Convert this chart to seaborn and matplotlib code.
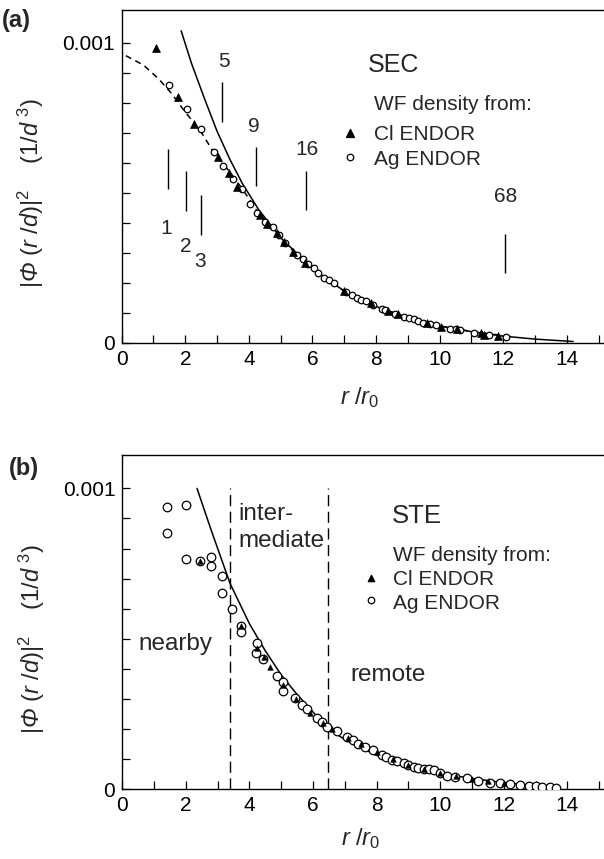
import numpy as np
import pandas as pd
import matplotlib
matplotlib.use("Agg")
import matplotlib.pyplot as plt
import seaborn as sns

# ---------------- data (densities in units of 1e-3 / d^3) ----------------
# Panel (a): SEC
sec_cl_r = [1.07, 1.77, 2.28, 3.04, 3.38, 3.63, 4.35, 4.58, 4.90, 5.10, 5.40, 5.78, 6.99, 7.84,
            8.38, 8.70, 9.60, 10.05, 10.55, 11.30, 11.40, 11.83]
sec_cl_d = [0.981, 0.820, 0.729, 0.620, 0.566, 0.520, 0.425, 0.395, 0.365, 0.335, 0.303, 0.265, 0.173, 0.131,
            0.105, 0.095, 0.066, 0.054, 0.046, 0.031, 0.027, 0.024]

sec_ag_r = [1.49, 2.06, 2.50, 2.89, 3.19, 3.51, 3.77, 4.03, 4.26, 4.51, 4.75, 4.95, 5.14, 5.52, 5.69,
            5.86, 6.05, 6.18, 6.36, 6.52, 6.68, 7.07, 7.24, 7.39, 7.53, 7.68, 7.91, 8.20, 8.27,
            8.59, 8.88, 9.04, 9.19, 9.33, 9.49, 9.70, 9.90, 10.33, 10.52, 10.65, 11.08, 11.55, 12.10]
sec_ag_d = [0.859, 0.778, 0.711, 0.637, 0.589, 0.547, 0.511, 0.462, 0.433, 0.403, 0.387, 0.359, 0.331, 0.292, 0.278,
            0.261, 0.248, 0.233, 0.217, 0.209, 0.198, 0.170, 0.159, 0.148, 0.142, 0.140, 0.125, 0.111, 0.109,
            0.096, 0.087, 0.081, 0.078, 0.073, 0.067, 0.062, 0.058, 0.047, 0.047, 0.044, 0.033, 0.027, 0.020]

sec_fit_r = [1.87, 2.20, 2.60, 3.00, 3.40, 3.80, 4.30, 5.00, 6.00, 7.00, 8.00, 9.00, 10.0, 11.0, 12.0, 13.0, 14.2]
sec_fit_d = [1.040, 0.930, 0.815, 0.705, 0.612, 0.530, 0.445, 0.350, 0.248, 0.172, 0.121, 0.083, 0.056, 0.037, 0.022, 0.012, 0.004]

sec_guide_r = [0.13, 0.68, 1.15, 1.57, 1.99, 2.46, 2.88, 3.35, 3.82, 4.24, 5.0, 6.0, 7.0, 8.0, 9.0, 10.0, 11.0, 12.3]
sec_guide_d = [0.957, 0.926, 0.881, 0.831, 0.770, 0.709, 0.637, 0.576, 0.509, 0.442, 0.345, 0.247, 0.172, 0.121, 0.083, 0.056, 0.037, 0.020]

shell_r = [1.45, 2.03, 2.48, 3.17, 4.23, 5.80, 12.07]
shell_lo = [0.514, 0.440, 0.359, 0.737, 0.522, 0.442, 0.233]
shell_hi = [0.647, 0.573, 0.492, 0.870, 0.653, 0.573, 0.364]
shell_labels = ["1", "2", "3", "5", "9", "16", "68"]
shell_label_r = [1.41, 2.00, 2.47, 3.23, 4.16, 5.83, 12.07]
shell_label_d = [0.364, 0.303, 0.253, 0.920, 0.703, 0.626, 0.470]

# Panel (b): STE
ste_ag_r = [1.41, 1.41, 2.00, 2.00, 2.44, 2.80, 2.80, 3.14, 3.14, 3.45, 3.74, 3.74, 4.23, 4.21, 4.42,
            4.88, 5.07, 5.05, 5.44, 5.65, 5.80, 6.12, 6.27, 6.45, 6.75, 7.06, 7.25, 7.43, 7.65, 7.90,
            8.16, 8.30, 8.48, 8.65, 8.85, 9.00, 9.17, 9.30, 9.48, 9.65, 9.80, 10.0, 10.21, 10.45,
            10.84, 11.20, 11.57, 11.88, 12.20, 12.50, 12.80, 13.00, 13.20, 13.45, 13.65]
ste_ag_d = [0.937, 0.853, 0.945, 0.767, 0.759, 0.771, 0.743, 0.710, 0.653, 0.599, 0.544, 0.524, 0.487, 0.452, 0.432,
            0.376, 0.357, 0.328, 0.302, 0.280, 0.266, 0.236, 0.225, 0.208, 0.194, 0.173, 0.165, 0.150, 0.140, 0.131,
            0.114, 0.108, 0.097, 0.093, 0.088, 0.081, 0.075, 0.072, 0.069, 0.066, 0.063, 0.055, 0.044, 0.042,
            0.037, 0.029, 0.022, 0.020, 0.017, 0.015, 0.012, 0.010, 0.008, 0.007, 0.005]

ste_cl_r = [2.44, 3.74, 4.23, 4.45, 4.65, 5.05, 5.45, 5.90, 6.30, 6.60, 7.10, 7.50, 8.00, 8.50, 9.00,
            9.50, 10.0, 10.5, 11.0, 11.5, 12.0]
ste_cl_d = [0.759, 0.544, 0.470, 0.440, 0.407, 0.345, 0.300, 0.255, 0.220, 0.200, 0.172, 0.150, 0.125, 0.100, 0.082,
            0.066, 0.053, 0.043, 0.034, 0.027, 0.020]

ste_fit_r = [2.35, 2.80, 3.39, 4.00, 4.50, 5.00, 5.50, 6.46, 7.00, 8.00, 9.00, 10.0, 11.0, 12.0, 13.0, 13.7]
ste_fit_d = [1.000, 0.860, 0.684, 0.550, 0.460, 0.380, 0.315, 0.203, 0.165, 0.113, 0.078, 0.053, 0.036, 0.022, 0.012, 0.006]

region_bounds = [3.39, 6.46]

# ---------------- style ----------------
sns.set_theme(style="ticks")
plt.rcParams.update({
    "font.family": ["Liberation Sans", "DejaVu Sans"],
    "mathtext.fontset": "custom",
    "mathtext.rm": "Liberation Sans",
    "mathtext.it": "Liberation Sans:italic",
    "mathtext.sf": "Liberation Sans:italic",   # used for the slanted capital Phi
    "mathtext.bf": "Liberation Sans:bold",
    "mathtext.default": "regular",
    "axes.linewidth": 1.0,
    "axes.edgecolor": "black",
    "xtick.direction": "in",
    "ytick.direction": "in",
    "xtick.color": "black",
    "ytick.color": "black",
})

W, H = 604, 859
fig = plt.figure(figsize=(W / 100, H / 100), dpi=100)
fig.patch.set_facecolor("white")

XMAX = 15.5
px_per_unit = 31.79
ax_a = fig.add_axes([121.7 / W, (H - 342.7) / H, XMAX * px_per_unit / W, (342.7 - 9.5) / H])
ax_b = fig.add_axes([122.3 / W, (H - 789.3) / H, XMAX * px_per_unit / W, (789.3 - 455.0) / H])

S = 1e-3
FS = 15
YLAB = r"$|\mathsf{Φ}\ (\mathit{r}\ /\mathit{d})|^{2}\quad\ (1/\mathit{d}^{\ 3})$"
XLAB = r"$\mathit{r}\ /\mathit{r}_{0}$"


def style_axes(ax, xlab_y):
    ax.set_facecolor("white")
    ax.set_xlim(0, XMAX)
    ax.set_ylim(0, 1.111 * S)
    ax.set_xticks(np.arange(0, 15, 2))
    ax.set_xticks(np.arange(0, 16, 1), minor=True)
    ax.set_yticks([0, S])
    ax.set_yticklabels(["0", "0.001"])
    ax.set_yticks(np.arange(0, 1.05 * S, 0.1 * S), minor=True)
    ax.tick_params(axis="x", which="both", length=5.5, width=0.9, labelsize=FS, pad=5,
                   top=False, direction="in")
    ax.tick_params(axis="y", which="both", length=5.5, width=0.9, labelsize=FS, pad=5,
                   right=False, direction="in")
    ax.tick_params(axis="y", which="minor", labelleft=False)
    for sp in ax.spines.values():
        sp.set_visible(True)
        sp.set_color("black")
        sp.set_linewidth(1.0)
    ax.set_xlabel("")
    ax.set_ylabel("")
    ax.text(-2.85, 0.5 * S, YLAB, rotation=90, ha="center", va="center", fontsize=17,
            clip_on=False)
    ax.text(7.5, xlab_y, XLAB, ha="center", va="center", fontsize=17, clip_on=False)


# ---------------- panel (a) ----------------
sns.lineplot(x=np.array(sec_fit_r), y=np.array(sec_fit_d) * S, ax=ax_a, color="black", lw=1.1,
             sort=False, estimator=None)
sns.lineplot(x=np.array(sec_guide_r), y=np.array(sec_guide_d) * S, ax=ax_a, color="black", lw=1.1,
             sort=False, estimator=None, dashes=False, linestyle=(0, (4, 3)))
for r, lo, hi in zip(shell_r, shell_lo, shell_hi):
    ax_a.vlines(r, lo * S, hi * S, color="black", lw=1.0)
for lab, r, d in zip(shell_labels, shell_label_r, shell_label_d):
    ax_a.text(r, d * S, lab, ha="center", va="baseline", fontsize=FS)

sns.scatterplot(x=sec_ag_r, y=np.array(sec_ag_d) * S, ax=ax_a, marker="o", s=22,
                facecolor="white", edgecolor="black", linewidth=0.9, zorder=3)
sns.scatterplot(x=sec_cl_r, y=np.array(sec_cl_d) * S, ax=ax_a, marker="^", s=32,
                color="black", edgecolor="black", linewidth=0.5, zorder=4)

ax_a.text(8.55, 0.903 * S, "SEC", ha="center", va="baseline", fontsize=18)
ax_a.text(7.94, 0.776 * S, "WF density from:", ha="left", va="baseline", fontsize=FS)
ax_a.text(7.94, 0.676 * S, "Cl ENDOR", ha="left", va="baseline", fontsize=FS)
ax_a.text(7.94, 0.592 * S, "Ag ENDOR", ha="left", va="baseline", fontsize=FS)
ax_a.scatter([7.18], [0.698 * S], marker="^", s=32, color="black", zorder=4)
ax_a.scatter([7.18], [0.620 * S], marker="o", s=22, facecolor="white", edgecolor="black",
             linewidth=0.9, zorder=4)

# ---------------- panel (b) ----------------
sns.lineplot(x=np.array(ste_fit_r), y=np.array(ste_fit_d) * S, ax=ax_b, color="black", lw=1.1,
             sort=False, estimator=None)
for xb in region_bounds:
    ax_b.vlines(xb, 0, 1.0 * S, color="black", lw=1.0, linestyles=(0, (8, 4)))

sns.scatterplot(x=ste_ag_r, y=np.array(ste_ag_d) * S, ax=ax_b, marker="o", s=38,
                facecolor="white", edgecolor="black", linewidth=0.9, zorder=3)
sns.scatterplot(x=ste_cl_r, y=np.array(ste_cl_d) * S, ax=ax_b, marker="^", s=16,
                color="black", edgecolor="black", linewidth=0.4, zorder=4)

ax_b.text(3.65, 0.895 * S, "inter-", ha="left", va="baseline", fontsize=17.5)
ax_b.text(3.65, 0.804 * S, "mediate", ha="left", va="baseline", fontsize=17.5)
ax_b.text(9.27, 0.886 * S, "STE", ha="center", va="baseline", fontsize=18.5)
ax_b.text(8.51, 0.760 * S, "WF density from:", ha="left", va="baseline", fontsize=FS)
ax_b.text(8.51, 0.679 * S, "Cl ENDOR", ha="left", va="baseline", fontsize=FS)
ax_b.text(8.51, 0.598 * S, "Ag ENDOR", ha="left", va="baseline", fontsize=FS)
ax_b.scatter([7.82], [0.701 * S], marker="^", s=20, color="black", zorder=4)
ax_b.scatter([7.82], [0.629 * S], marker="o", s=22, facecolor="white", edgecolor="black",
             linewidth=0.9, zorder=4)
ax_b.text(0.51, 0.463 * S, "nearby", ha="left", va="baseline", fontsize=17.5)
ax_b.text(7.16, 0.361 * S, "remote", ha="left", va="baseline", fontsize=17.5)

style_axes(ax_a, -(398 - 342.7) / 300 * S)
style_axes(ax_b, -(839 - 789.3) / 301 * S)

fig.text(2 / W, 1 - 21 / H, "(a)", fontsize=17, fontweight="bold", ha="left", va="center")
fig.text(9 / W, 1 - 468 / H, "(b)", fontsize=17, fontweight="bold", ha="left", va="center")

fig.savefig("out.png", dpi=100, facecolor="white")
